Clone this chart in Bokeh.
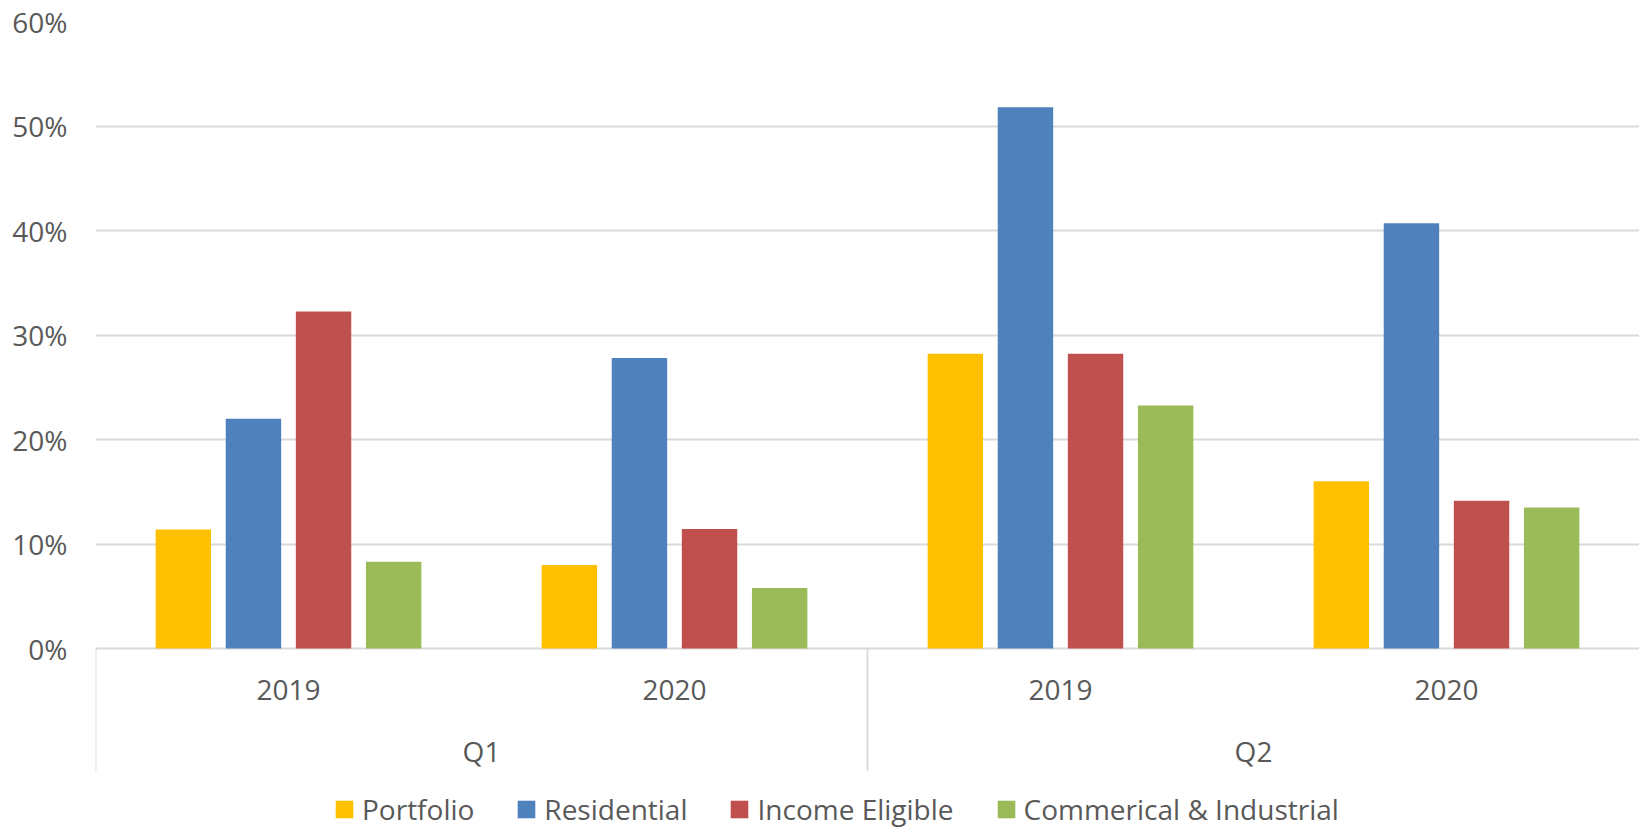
from bokeh.plotting import figure
from bokeh.models import (ColumnDataSource, FactorRange, Range1d, FixedTicker,
                          NumeralTickFormatter, Legend, LegendItem)
from bokeh.transform import dodge
from bokeh.core.properties import value
from bokeh.embed import file_html
from bokeh.resources import INLINE

# ---- data ----
quarters = ["Q1", "Q2"]
years = ["2019", "2020"]
series_names = ["Portfolio", "Residential", "Income Eligible", "Commerical & Industrial"]
portfolio = [0.114, 0.080, 0.282, 0.160]
residential = [0.220, 0.278, 0.518, 0.407]
income_eligible = [0.3225, 0.1145, 0.282, 0.1415]
commercial_industrial = [0.083, 0.058, 0.2325, 0.135]
y_ticks = [0, 0.1, 0.2, 0.3, 0.4, 0.5, 0.6]

colors = ["#FFC000", "#4F81BD", "#C0504D", "#9BBB59"]
FONT = "Open Sans"
FS = "28px"
TXT = "#595959"
GRID = "#D9D9D9"

factors = [(q, y) for q in quarters for y in years]
source = ColumnDataSource(dict(
    x=factors,
    portfolio=portfolio,
    residential=residential,
    income=income_eligible,
    ci=commercial_industrial,
    year=[f[1] for f in factors],
))
cols = ["portfolio", "residential", "income", "ci"]

x_range = FactorRange(*factors, factor_padding=0, group_padding=0, range_padding=0)
p = figure(frame_width=1544, frame_height=807, x_range=x_range,
           y_range=Range1d(-0.1722, 0.6),
           output_backend="svg", toolbar_location=None, tools="",
           x_axis_location=None, min_border_left=95, min_border_right=0,
           min_border_top=21, min_border_bottom=0)
p.outline_line_color = None
p.background_fill_color = "white"
p.border_fill_color = "white"

# y axis
p.yaxis.ticker = FixedTicker(ticks=y_ticks)
p.yaxis.formatter = NumeralTickFormatter(format="0%")
p.yaxis.axis_line_color = None
p.yaxis.major_tick_line_color = None
p.yaxis.minor_tick_line_color = None
p.yaxis.major_tick_out = 0
p.yaxis.major_tick_in = 0
p.yaxis.major_label_standoff = 28
p.yaxis.major_label_text_font = FONT
p.yaxis.major_label_text_font_size = FS
p.yaxis.major_label_text_color = TXT

p.xgrid.grid_line_color = None
p.ygrid.ticker = FixedTicker(ticks=y_ticks)
p.ygrid.grid_line_color = GRID
p.ygrid.grid_line_width = 1.8

# bars
bar_w = 0.1436
step = 0.1816
renderers = []
for i, (c, col) in enumerate(zip(cols, colors)):
    r = p.vbar(x=dodge("x", (i - 1.5) * step, range=x_range), top=c, width=bar_w,
               bottom=0, source=source, fill_color=col, line_color=None)
    renderers.append(r)

# separators (group boundaries) under the axis
sep_src = ColumnDataSource(dict(q=quarters, y0=[0, 0], y1=[-0.117, -0.117]))
p.segment(x0=dodge("q", -1.0, range=x_range), y0="y0",
          x1=dodge("q", -1.0, range=x_range), y1="y1",
          source=sep_src, line_color=GRID, line_width=1.8)

# category labels
p.text(x="x", y=-0.0392, text="year", source=source, text_align="center",
       text_baseline="middle", text_font=value(FONT), text_font_size=FS,
       text_color=TXT)
q_src = ColumnDataSource(dict(q=quarters))
p.text(x="q", y=-0.0976, text="q", source=q_src, text_align="center",
       text_baseline="middle", text_font=value(FONT), text_font_size=FS,
       text_color=TXT)

# legend
legend = Legend(items=[LegendItem(label=n, renderers=[r]) for n, r in zip(series_names, renderers)],
                orientation="horizontal", location=(238, 0), padding=0, margin=0,
                border_line_color=None, background_fill_alpha=0,
                glyph_width=22, glyph_height=22, label_standoff=7, spacing=41,
                label_text_font=FONT, label_text_font_size=FS,
                label_text_color=TXT)
p.add_layout(legend, "center")

open("out.html", "w").write(file_html(p, INLINE))
